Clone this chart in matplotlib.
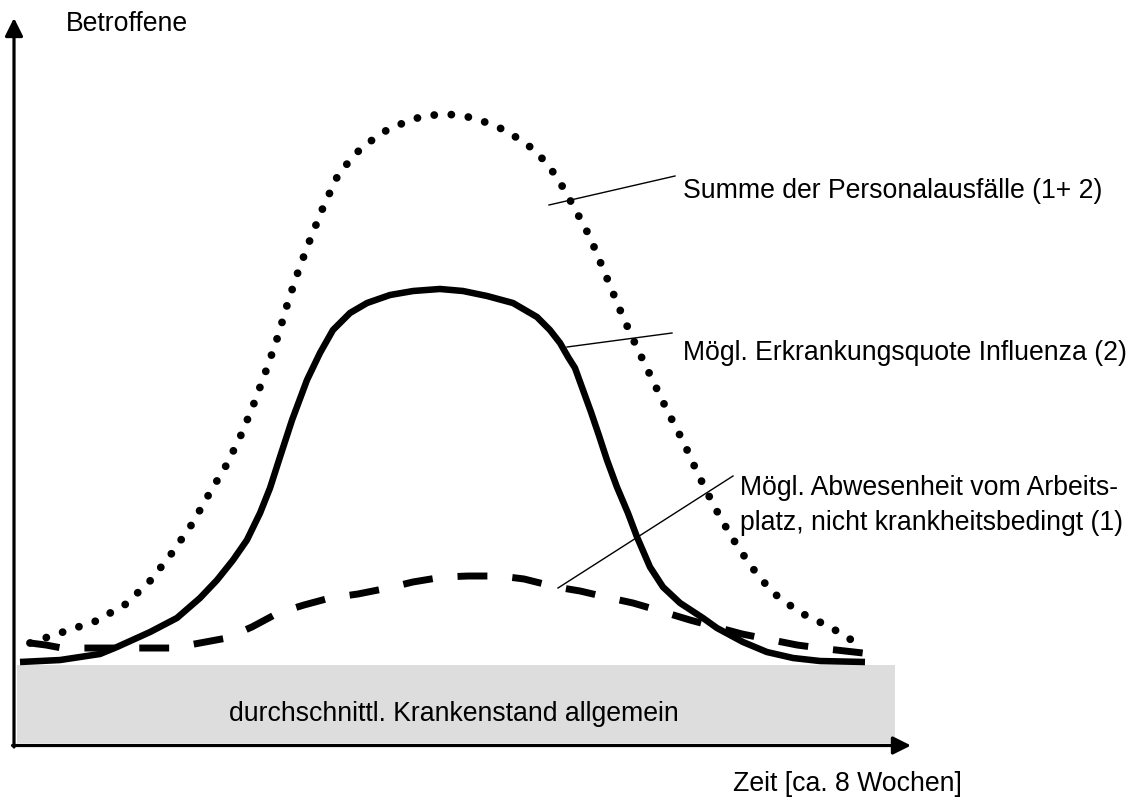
import matplotlib.pyplot as plt
from matplotlib.patches import Rectangle

# Zeit in Tagen (ca. 8 Wochen), Betroffene in % vom Maximum der Summe
tage_summe = [0.66, 2.85, 5.04, 7.02, 8.68, 10.07, 11.40, 12.53, 13.72, 14.71, 15.57,
              16.37, 17.10, 17.76, 18.49, 19.29, 20.15, 21.14, 22.67, 24.52, 26.71,
              28.30, 30.15, 32.27, 34.20, 35.59, 36.71, 37.77, 38.84, 39.96, 40.96,
              41.95, 42.94, 44.00, 44.93, 45.99, 47.12, 48.38, 49.84, 51.63, 53.68, 55.87]
summe = [3.47, 5.47, 7.48, 10.58, 14.96, 19.89, 25.18, 30.66, 36.13, 41.79, 47.63,
         53.65, 59.49, 65.69, 71.72, 77.55, 83.39, 89.23, 93.98, 97.45, 99.64,
         100.0, 99.27, 96.90, 93.25, 88.50, 83.03, 77.55, 70.44, 62.96, 56.93,
         51.28, 45.62, 39.96, 34.31, 28.47, 22.99, 17.70, 12.77, 9.12, 6.39, 2.74]

tage_influenza = [0.0, 2.65, 5.30, 6.43, 8.62, 10.40, 11.93, 13.06, 14.12, 15.04, 15.91,
                  16.57, 17.23, 18.03, 19.02, 19.88, 20.74, 21.87, 23.00, 24.52, 26.05,
                  27.83, 29.36, 30.95, 32.67, 34.26, 35.12, 35.79, 36.32, 36.78, 37.31,
                  37.84, 38.38, 38.90, 39.56, 40.29, 40.89, 41.75, 42.61, 43.74, 45.26,
                  46.19, 47.91, 49.50, 51.23, 53.02, 56.00]
influenza = [0.0, 0.36, 1.46, 2.74, 5.47, 8.03, 11.68, 14.96, 18.61, 22.26, 27.19,
             31.75, 37.41, 44.16, 51.46, 56.39, 60.58, 63.69, 65.51, 66.97, 67.70,
             68.07, 67.70, 66.79, 65.51, 62.96, 60.58, 58.21, 55.66, 53.65, 49.64,
             45.62, 41.24, 36.86, 31.93, 27.19, 22.81, 17.34, 13.69, 10.77, 8.03,
             6.20, 3.65, 1.82, 0.73, 0.18, 0.0]

tage_abwesenheit = [0.66, 1.72, 2.78, 4.44, 6.43, 8.15, 10.14, 11.93, 13.72, 15.37, 17.10,
                    18.82, 20.54, 22.40, 24.39, 26.04, 28.03, 29.69, 31.81, 33.40, 35.52,
                    37.11, 39.10, 40.62, 42.21, 44.40, 47.85, 49.84, 51.50, 53.49, 55.87]
abwesenheit = [3.47, 3.10, 2.55, 2.55, 2.55, 2.55, 2.55, 3.47, 4.38, 6.39, 8.94,
               10.40, 11.68, 12.41, 13.50, 14.60, 15.51, 15.69, 15.69, 15.15, 13.69,
               12.96, 11.68, 10.77, 9.49, 7.66, 5.11, 4.01, 3.10, 2.37, 1.64]

# Umrechnung Pixel <-> Daten (Bildgroesse 1138 x 805)
W, H = 1138, 805
x0, px_tag = 20, 845 / 56
y0, px_wert = 662, 5.48


def fp(x, y):
    # Pixelposition -> Figure-Koordinaten
    return x / W, 1 - y / H


fig = plt.figure(figsize=(W / 100, H / 100), dpi=100)
ax = fig.add_axes([0, 0, 1, 1])
ax.set_xlim(-x0 / px_tag, (W - x0) / px_tag)
ax.set_ylim((y0 - H) / px_wert, y0 / px_wert)
ax.axis('off')

schrift = dict(family=['Liberation Sans', 'DejaVu Sans'], fontsize=19.2, color='black')

# grauer Kasten
ax.add_patch(Rectangle(fp(17, 743), (895 - 17) / W, (743 - 665) / H,
                       transform=fig.transFigure, facecolor='#dddddd', edgecolor='none', zorder=1))
fig.text(*fp(454, 714), 'durchschnittl. Krankenstand allgemein', ha='center', va='center', **schrift)

# Achsen mit Pfeilen
pfeil = dict(arrowstyle='-|>', lw=2.3, color='black', mutation_scale=27, shrinkA=0, shrinkB=0)
ax.annotate('', xy=fp(14, 18), xytext=fp(14, 747), xycoords='figure fraction',
            textcoords='figure fraction', arrowprops=pfeil, zorder=5)
ax.annotate('', xy=fp(911, 745.5), xytext=fp(12.5, 745.5), xycoords='figure fraction',
            textcoords='figure fraction', arrowprops=pfeil, zorder=5)

# Kurven
ax.plot(tage_influenza, influenza, color='black', lw=4.7, solid_capstyle='butt',
        solid_joinstyle='round', zorder=3)
ax.plot(tage_abwesenheit, abwesenheit, color='black', lw=5.0,
        linestyle=(0, (4.3, 3.6)), dash_capstyle='butt', zorder=3)
ax.plot(tage_summe, summe, color='black', lw=5.6,
        linestyle=(0, (0.01, 2.2)), dash_capstyle='round', zorder=3)

# Hinweislinien
for (xa, ya), (xb, yb) in [((549, 205), (675, 176)),
                           ((567, 347), (672, 333)),
                           ((558, 588), (733, 476))]:
    ax.plot([xa / W, xb / W], [1 - ya / H, 1 - yb / H], color='black', lw=1.0,
            transform=fig.transFigure, zorder=4)

# Beschriftungen
fig.text(*fp(66, 24), 'Betroffene', ha='left', va='center', **schrift)
fig.text(*fp(683, 191), 'Summe der Personalausfälle (1+ 2)', ha='left', va='center', **schrift)
fig.text(*fp(683, 353), 'Mögl. Erkrankungsquote Influenza (2)', ha='left', va='center', **schrift)
fig.text(*fp(740, 488), 'Mögl. Abwesenheit vom Arbeits-', ha='left', va='center', **schrift)
fig.text(*fp(740, 523), 'platz, nicht krankheitsbedingt (1)', ha='left', va='center', **schrift)
fig.text(*fp(733, 784), 'Zeit [ca. 8 Wochen]', ha='left', va='center', **schrift)

fig.savefig('out.png', dpi=100)
